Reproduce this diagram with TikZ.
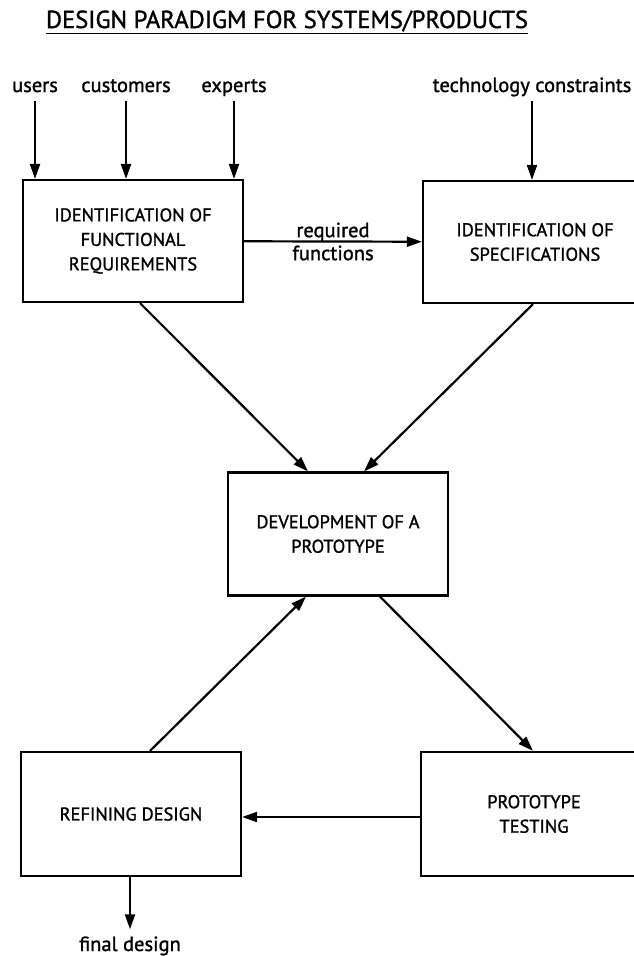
\documentclass[tikz,border=0pt]{standalone}
\usepackage{fontspec}
\setmainfont{PT Sans}[FakeBold=1.3]
\usetikzlibrary{arrows.meta}
\tikzset{
  stage/.style={draw, line width=2.2pt, minimum width=220pt, minimum height=122pt,
    align=center, inner sep=0pt, font=\fontsize{18.4}{24.5}\selectfont},
  flow/.style={line width=2.2pt, -{Triangle[length=15pt,width=10pt]}},
  src/.style={inner sep=0pt, font=\fontsize{20.5}{23}\selectfont}
}
\begin{document}
\begin{tikzpicture}[x=1pt,y=-1pt]
\useasboundingbox (0,0) rectangle (634,956);
% title
\node[font=\fontsize{24.6}{26}\selectfont] (title) at (287,22) {\underline{DESIGN PARADIGM FOR SYSTEMS/PRODUCTS}};

% boxes
\node[stage] (ifr) at (133,241) {IDENTIFICATION OF\\FUNCTIONAL\\REQUIREMENTS};
\node[stage, minimum width=224pt] (ispec) at (535,242) {IDENTIFICATION OF\\SPECIFICATIONS};
\node[stage, minimum height=123pt] (dev) at (338,534) {DEVELOPMENT OF A\\PROTOTYPE};
\node[stage, minimum height=124pt] (refine) at (131,814) {REFINING DESIGN};
\node[stage, minimum width=226pt, minimum height=124pt] (test) at (534,814) {PROTOTYPE\\TESTING};

% inputs
\node[src, anchor=base] (users) at (35,92) {users};
\node[src, anchor=base] (customers) at (126,92) {customers};
\node[src, anchor=base] (experts) at (234,92) {experts};
\node[src, anchor=base] (techc) at (532,92) {technology constraints};
\node[src, anchor=base] (final) at (130,951) {final design};

\foreach \n in {users,customers,experts}
  \draw[flow] (\n.base) ++(0,9) -- (\n.base |- ifr.north);
\draw[flow] (techc.base) ++(0,9) -- (techc.base |- ispec.north);

% flow between stages
\draw[flow] (ifr) -- node[src, align=center] {required\\functions} (ispec);
\draw[flow] ([xshift=7pt]ifr.south) -- ([xshift=-30pt]dev.north);
\draw[flow] ([xshift=-2pt]ispec.south) -- ([xshift=26pt]dev.north);
\draw[flow] ([xshift=42pt]dev.south) -- ([xshift=-1pt]test.north);
\draw[flow] ([xshift=19pt]refine.north) -- ([xshift=-32pt]dev.south);
\draw[flow] ([yshift=-3pt]test.west) -- ([yshift=-3pt]refine.east);
\draw[flow] (refine.south -| final) -- ([yshift=7pt]final.north);
\end{tikzpicture}
\end{document}
